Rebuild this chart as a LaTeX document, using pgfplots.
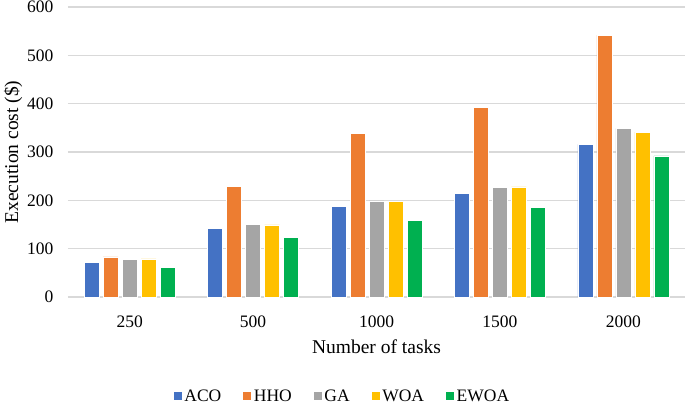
\documentclass[border=0pt]{standalone}
\usepackage{pgfplots}
\pgfplotsset{compat=1.18}
\usepackage{fontspec}
\setmainfont{Liberation Serif}
\definecolor{aco}{HTML}{4472C4}
\definecolor{hho}{HTML}{ED7D31}
\definecolor{ga}{HTML}{A5A5A5}
\definecolor{woa}{HTML}{FFC000}
\definecolor{ewoa}{HTML}{00B050}
\definecolor{gridgray}{HTML}{D9D9D9}
\begin{document}
\begin{tikzpicture}
\useasboundingbox (-68pt,-110pt) rectangle (617pt,297pt);
\begin{axis}[
  at={(0,0)}, anchor=south west,
  scale only axis, width=617pt, height=290pt,
  ybar=4pt, bar width=15pt,
  xmin=-0.5, xmax=4.5, ymin=0, ymax=600,
  xtick=data, xticklabels={250,500,1000,1500,2000},
  ytick={0,100,...,600},
  ymajorgrids, grid style={gridgray, line width=1.2pt},
  axis x line*=bottom, axis y line*=left,
  x axis line style={gridgray, line width=1.2pt, -},
  y axis line style={draw=none},
  major tick length=0pt,
  tick label style={font=\fontsize{17.5}{20}\selectfont},
  /pgf/number format/assume math mode=true,
  yticklabel style={xshift=-11pt},
  xticklabel style={yshift=-15pt},
  xlabel={Number of tasks}, ylabel={Execution cost (\$)},
  label style={font=\fontsize{19.5}{22}\selectfont},
  xlabel style={yshift=-6pt},
  ylabel style={yshift=-2pt},
  legend style={at={(274pt,-99pt)}, anchor=center, draw=none, fill=none,
    legend columns=5, font=\fontsize{17.5}{20}\selectfont, inner sep=1pt,
    /tikz/every even column/.append style={column sep=19pt}},
  legend image code/.code={\fill[#1] (0pt,-4.5pt) rectangle (9pt,4.5pt);},
  every axis plot/.append style={draw=white, line width=0.6pt},
]
\addplot[fill=aco] coordinates {(0,72) (1,142) (2,187) (3,214) (4,316)};
\addplot[fill=hho] coordinates {(0,83) (1,229) (2,339) (3,392) (4,542)};
\addplot[fill=ga] coordinates {(0,77) (1,151) (2,199) (3,227) (4,349)};
\addplot[fill=woa] coordinates {(0,79) (1,149) (2,197) (3,228) (4,341)};
\addplot[fill=ewoa] coordinates {(0,61) (1,123) (2,159) (3,186) (4,292)};
\legend{ACO,HHO,GA,WOA,EWOA}
\end{axis}
\end{tikzpicture}
\end{document}
